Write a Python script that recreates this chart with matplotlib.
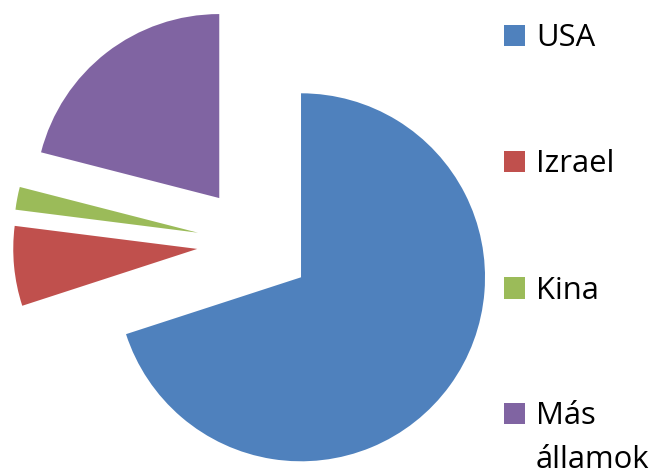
import matplotlib
matplotlib.use("Agg")
import matplotlib.pyplot as plt
from matplotlib.patches import Rectangle

categories = ["USA", "Izrael", "Kina", "Más államok"]
legend_labels = ["USA", "Izrael", "Kina", "Más\nállamok"]
values = [70, 7, 2, 21]
colors = ["#4F81BD", "#C0504D", "#9BBB59", "#8064A2"]

W, H = 661, 476
fig = plt.figure(figsize=(W / 100, H / 100), dpi=100)
ax = fig.add_axes([0, 0, 1, 1])

R = 184.0
cx, cy = 254.5, 243.5  # pixels from top-left
ax.pie(values, colors=colors, startangle=90, counterclock=False,
       explode=[0.3125] * len(values), radius=1,
       wedgeprops=dict(linewidth=0))
ax.set_xlim(-cx / R, (W - cx) / R)
ax.set_ylim(-(H - cy) / R, cy / R)
ax.set_aspect("auto")
ax.axis("off")

fam = ["Open Sans", "DejaVu Sans"]
ys = [35.5, 161.5, 288, 413.5]
for lab, col, yc in zip(legend_labels, colors, ys):
    fig.patches.append(Rectangle((503.5 / W, 1 - (yc + 10.75) / H), 21.5 / W, 21.5 / H,
                                 transform=fig.transFigure, facecolor=col,
                                 edgecolor="none"))
    for k, line in enumerate(lab.split("\n")):
        fig.text(536 / W, 1 - (yc + 11 + 44 * k) / H, line, fontsize=22.3,
                 va="baseline", ha="left", family=fam, color="#000000")

fig.savefig("out.png", dpi=100)
